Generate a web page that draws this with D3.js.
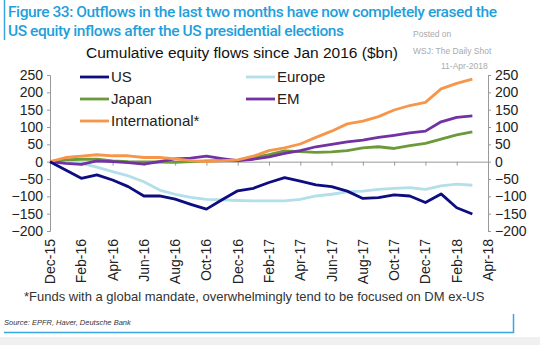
<!DOCTYPE html>
<html>
<head>
<meta charset="utf-8">
<script src="https://cdn.jsdelivr.net/npm/d3@7"></script>
<style>
  body { margin: 0; background: #fff; }
  svg { display: block; font-family: "Liberation Sans", Arial, sans-serif; }
</style>
</head>
<body>
<svg width="540" height="345"></svg>
<script>
// monthly, Dec-15 .. Mar-18
var months = ["Dec-15","Jan-16","Feb-16","Mar-16","Apr-16","May-16","Jun-16","Jul-16","Aug-16","Sep-16","Oct-16","Nov-16",
  "Dec-16","Jan-17","Feb-17","Mar-17","Apr-17","May-17","Jun-17","Jul-17","Aug-17","Sep-17","Oct-17","Nov-17",
  "Dec-17","Jan-18","Feb-18","Mar-18"];
var usVals = [0,-24,-48,-38,-53,-72,-99,-99,-108,-123,-137,-110,-84,-77,-60,-46,-56,-67,-72,-85,-106,-104,-96,-99,-118,-93,-133,-151];
var europeVals = [0,0,-5,-16,-29,-41,-58,-82,-94,-103,-109,-110,-112,-113,-113,-113,-109,-99,-94,-87,-85,-80,-77,-75,-80,-70,-65,-68];
var japanVals = [0,5,7,7,2,0,-1,-1,-2,0,2,3,3,12,20,31,29,27,28,32,40,43,38,46,53,65,77,86];
var emVals = [0,-5,-8,2,0,-3,-7,0,8,10,16,9,3,7,14,24,32,43,50,57,62,70,76,83,88,115,128,132];
var intlVals = [0,12,16,20,17,17,12,12,8,3,0,3,5,16,32,40,51,70,88,109,117,130,149,162,171,210,226,238];
var xTicks = ["Dec-15","Feb-16","Apr-16","Jun-16","Aug-16","Oct-16","Dec-16","Feb-17","Apr-17","Jun-17","Aug-17","Oct-17","Dec-17","Feb-18","Apr-18"];
var yTicks = [250,200,150,100,50,0,-50,-100,-150,-200];

var series = [
  {name: "US", values: usVals, color: "#0d0d80"},
  {name: "Europe", values: europeVals, color: "#b2dfea"},
  {name: "Japan", values: japanVals, color: "#6c9a3a"},
  {name: "EM", values: emVals, color: "#7232a3"},
  {name: "International*", values: intlVals, color: "#f7964a"}
];

var svg = d3.select("svg");
var plotL = 50, plotR = 488, plotT = 75, plotB = 231;

var x = d3.scaleLinear().domain([0, 28]).range([plotL, plotR]);
var y = d3.scaleLinear().domain([-200, 250]).range([plotB, plotT]);

// frame
svg.append("rect").attr("x", 0).attr("y", 337).attr("width", 540).attr("height", 8).attr("fill", "#f0f0f0");
svg.append("line").attr("x1", 4.5).attr("x2", 4.5).attr("y1", 0).attr("y2", 40).attr("stroke", "#3aa6e0").attr("stroke-width", 1.5);
svg.append("path").attr("d", "M4,332.5H513.5V314").attr("fill", "none").attr("stroke", "#3aa6e0").attr("stroke-width", 1.5);

// titles
svg.append("text").attr("x", 8).attr("y", 17).attr("fill", "#1f9fdc").attr("font-size", 15.5)
  .attr("font-family", "Roboto, sans-serif").attr("font-weight", 500)
  .attr("textLength", 489).text("Figure 33: Outflows in the last two months have now completely erased the");
svg.append("text").attr("x", 8).attr("y", 36).attr("fill", "#1f9fdc").attr("font-size", 15.5)
  .attr("font-family", "Roboto, sans-serif").attr("font-weight", 500)
  .attr("textLength", 336).text("US equity inflows after the US presidential elections");
svg.append("text").attr("x", 242).attr("y", 58).attr("text-anchor", "middle").attr("font-size", 15.5).attr("fill", "#111")
  .text("Cumulative equity flows since Jan 2016 ($bn)");

var note = svg.append("g").attr("fill", "#aaa").attr("font-size", 8.5);
note.append("text").attr("x", 413).attr("y", 37).text("Posted on");
note.append("text").attr("x", 413).attr("y", 54).text("WSJ: The Daily Shot");
note.append("text").attr("x", 441).attr("y", 69).text("11-Apr-2018");

// axes
var yLeft = d3.axisLeft(y).tickValues(yTicks).tickSize(3).tickPadding(4);
var yRight = d3.axisRight(y).tickValues(yTicks).tickSize(3).tickPadding(4);
var gl = svg.append("g").attr("transform", "translate(" + plotL + ",0)").call(yLeft);
var gr = svg.append("g").attr("transform", "translate(" + plotR + ",0)").call(yRight);
[gl, gr].forEach(function(g) {
  g.select(".domain").attr("stroke", "#999");
  g.selectAll(".tick line").attr("stroke", "#999");
  g.selectAll(".tick text").attr("font-size", 14).attr("fill", "#222").attr("font-family", "Liberation Sans, Arial, sans-serif");
});

var xAxis = d3.axisBottom(x).tickValues(d3.range(0, 29, 2)).tickSize(4).tickFormat("");
var gx = svg.append("g").attr("transform", "translate(0," + y(0) + ")").call(xAxis);
gx.select(".domain").attr("stroke", "#999");
gx.selectAll(".tick line").attr("stroke", "#999");

svg.append("g").selectAll("text").data(xTicks).join("text")
  .attr("transform", function(d, i) { return "translate(" + (x(i * 2) + 5) + "," + (plotB + 8) + ") rotate(-90)"; })
  .attr("text-anchor", "end").attr("font-size", 14).attr("fill", "#222")
  .text(function(d) { return d; });

// lines
var line = d3.line().x(function(d, i) { return x(i); }).y(function(d) { return y(d); });
var drawOrder = [1, 2, 3, 4, 0];
drawOrder.forEach(function(k) {
  var s = series[k];
  svg.append("path").datum(s.values)
    .attr("fill", "none").attr("stroke", s.color).attr("stroke-width", 2.8)
    .attr("stroke-linejoin", "round").attr("d", line);
});

// legend
var legendPos = [[80, 77], [246, 77], [80, 99], [246, 99], [80, 121]];
series.forEach(function(s, i) {
  var p = legendPos[i];
  svg.append("line").attr("x1", p[0]).attr("x2", p[0] + 29).attr("y1", p[1]).attr("y2", p[1])
    .attr("stroke", s.color).attr("stroke-width", 2.8);
  svg.append("text").attr("x", p[0] + 31).attr("y", p[1] + 5).attr("font-size", 15).attr("fill", "#222").text(s.name);
});

// footnotes
svg.append("text").attr("x", 24).attr("y", 301).attr("font-size", 13).attr("fill", "#333")
  .text("*Funds with a global mandate, overwhelmingly tend to be focused on DM ex-US");
svg.append("text").attr("x", 4).attr("y", 325).attr("font-size", 7.5).attr("font-style", "italic").attr("fill", "#333")
  .text("Source: EPFR, Haver, Deutsche Bank");
</script>
</body>
</html>
